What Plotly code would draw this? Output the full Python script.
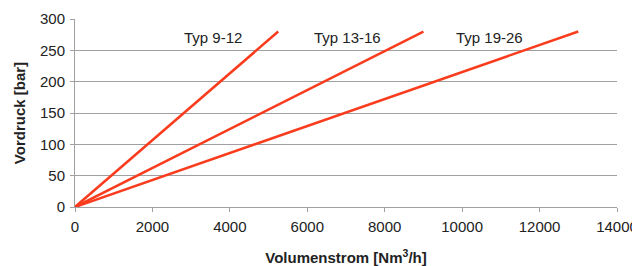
import plotly.graph_objects as go

x_ticks = [0, 2000, 4000, 6000, 8000, 10000, 12000, 14000]
x_tick_labels = ["0", "2000", "4000", "6000", "8000", "10000", "12000", "14000"]
y_ticks = [0, 50, 100, 150, 200, 250, 300]
y_tick_labels = ["0", "50", "100", "150", "200", "250", "300"]

series_names = ["Typ 9-12", "Typ 13-16", "Typ 19-26"]
flow_9_12 = [0, 5250]
flow_13_16 = [0, 9000]
flow_19_26 = [0, 13000]
pressure = [0, 280]

label_x = [3570, 7030, 10710]
label_y = [270, 270, 270]

line_color = "#FA3C1E"
grid_color = "#a0a0a0"
font_family = "Liberation Sans, Arial, sans-serif"

fig = go.Figure()
for name, xs in zip(series_names, [flow_9_12, flow_13_16, flow_19_26]):
    fig.add_trace(go.Scatter(x=xs, y=pressure, mode="lines", name=name,
                             line=dict(color=line_color, width=2.5), showlegend=False))

for name, lx, ly in zip(series_names, label_x, label_y):
    fig.add_annotation(x=lx, y=ly, text=name, showarrow=False,
                       font=dict(size=15, color="#222", family=font_family))

axis_common = dict(
    showline=True, linecolor=grid_color, linewidth=1,
    ticks="outside", ticklen=4, tickcolor=grid_color,
    tickfont=dict(size=15, color="#222", family=font_family),
    zeroline=False, automargin=False, ticklabelstandoff=2,
)

fig.update_xaxes(range=[0, 14000], tickvals=x_ticks, ticktext=x_tick_labels, showgrid=False,
                 title=dict(text="<b>Volumenstrom [Nm<sup>3</sup>/h]</b>",
                            font=dict(size=15, color="#222", family=font_family), standoff=19),
                 **axis_common)
fig.update_yaxes(range=[0, 300], tickvals=y_ticks, ticktext=y_tick_labels,
                 showgrid=True, gridcolor=grid_color, gridwidth=1,
                 title=dict(text="<b>Vordruck [bar]</b>",
                            font=dict(size=15, color="#222", family=font_family), standoff=10),
                 **axis_common)

# the page body adds an 8px offset, so the figure is sized to fill the rest of the window
fig.update_layout(width=632, height=258, margin=dict(l=67, r=23, t=11, b=59),
                  plot_bgcolor="white", paper_bgcolor="white")

fig.write_html("out.html")
